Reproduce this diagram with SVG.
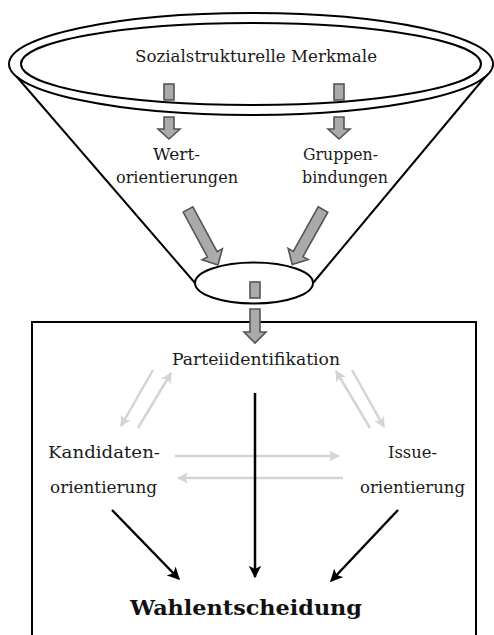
<svg xmlns="http://www.w3.org/2000/svg" width="494" height="635" viewBox="0 0 494 635">
<style>
.t{font-family:'DejaVu Serif',serif;font-size:17px;fill:#1a1a1a;}
.b{font-family:'DejaVu Serif',serif;font-size:20px;font-weight:bold;fill:#111;}
.line{stroke:#000;stroke-width:2;fill:none;}
.blk{fill:#aaa;stroke:#555;stroke-width:1.6;stroke-linejoin:miter;}
.gr{stroke:#d4d4d4;stroke-width:2.5;fill:none;marker-end:url(#ga);}
.bk{stroke:#000;stroke-width:2.5;fill:none;marker-end:url(#ba);}
</style>
<defs>
<marker id="ga" viewBox="0 0 10 10" refX="9" refY="5" markerWidth="4.4" markerHeight="4.4" orient="auto" markerUnits="strokeWidth">
<path d="M0,0 L10,5 L0,10 L2.5,5 Z" fill="#d4d4d4"/>
</marker>
<marker id="ba" viewBox="0 0 10 10" refX="9" refY="5" markerWidth="5" markerHeight="5" orient="auto" markerUnits="strokeWidth">
<path d="M0,0 L10,5 L0,10 L2.5,5 Z" fill="#000"/>
</marker>
</defs>
<rect width="494" height="635" fill="#fff"/>
<g id="funnel">
<line class="line" x1="17" y1="77" x2="195" y2="283"/>
<line class="line" x1="485" y1="77" x2="313" y2="283"/>
<ellipse class="line" cx="251" cy="64" rx="242" ry="51"/>
<ellipse class="line" cx="251" cy="64" rx="230" ry="41"/>
<ellipse class="line" cx="254" cy="283" rx="59" ry="20.5"/>
</g>
<g id="sozialstruktur">
<text class="t" x="256" y="62" text-anchor="middle" textLength="242" lengthAdjust="spacingAndGlyphs">Sozialstrukturelle Merkmale</text>
</g>
<g id="wertorientierungen">
<text class="t" x="176.5" y="160" text-anchor="middle" textLength="47" lengthAdjust="spacingAndGlyphs">Wert-</text>
<text class="t" x="177" y="183" text-anchor="middle" textLength="122" lengthAdjust="spacingAndGlyphs">orientierungen</text>
</g>
<g id="gruppenbindungen">
<text class="t" x="340.5" y="160" text-anchor="middle" textLength="75" lengthAdjust="spacingAndGlyphs">Gruppen-</text>
<text class="t" x="345" y="183" text-anchor="middle" textLength="86" lengthAdjust="spacingAndGlyphs">bindungen</text>
</g>
<g id="box">
<path class="line" d="M32,640 L32,322 L476,322 L476,640" stroke-width="1.6"/>
</g>
<g id="parteiidentifikation">
<text class="t" x="256" y="365" text-anchor="middle" textLength="168" lengthAdjust="spacingAndGlyphs">Parteiidentifikation</text>
</g>
<g id="kandidatenorientierung">
<text class="t" x="104" y="458" text-anchor="middle" textLength="112" lengthAdjust="spacingAndGlyphs">Kandidaten-</text>
<text class="t" x="103.5" y="493" text-anchor="middle" textLength="107" lengthAdjust="spacingAndGlyphs">orientierung</text>
</g>
<g id="issueorientierung">
<text class="t" x="412.5" y="458" text-anchor="middle" textLength="49" lengthAdjust="spacingAndGlyphs">Issue-</text>
<text class="t" x="412.5" y="493" text-anchor="middle" textLength="105" lengthAdjust="spacingAndGlyphs">orientierung</text>
</g>
<g id="wahlentscheidung">
<text class="b" x="246" y="615" text-anchor="middle" textLength="232" lengthAdjust="spacingAndGlyphs">Wahlentscheidung</text>
</g>
<g id="connectors">
<rect class="blk" x="164" y="84" width="10" height="16"/>
<rect class="blk" x="334" y="84" width="10" height="16"/>
<polygon class="blk" points="164,117 174,117 174,129 180,129 169,139 158,129 164,129"/>
<polygon class="blk" points="334,117 344,117 344,129 350,129 339,139 328,129 334,129"/>
<polygon class="blk" transform="translate(188,209.5) rotate(-28.4)" points="-5.5,0 5.5,0 5.5,51 11.5,51 0,63 -11.5,51 -5.5,51"/>
<polygon class="blk" transform="translate(323,209.5) rotate(29.2)" points="-5.5,0 5.5,0 5.5,51 11.5,51 0,63 -11.5,51 -5.5,51"/>
<rect class="blk" x="250" y="282" width="10" height="16"/>
<polygon class="blk" points="250,309 260,309 260,332 266,332 255,343 244,332 250,332"/>
<line class="gr" x1="153" y1="370" x2="121" y2="426"/>
<line class="gr" x1="138" y1="428" x2="171" y2="373"/>
<line class="gr" x1="370" y1="428" x2="336" y2="371"/>
<line class="gr" x1="352" y1="370" x2="384" y2="427"/>
<line class="gr" x1="175" y1="456" x2="339" y2="456"/>
<line class="gr" x1="343" y1="478" x2="178" y2="478"/>
<line class="bk" x1="255" y1="393" x2="255" y2="577"/>
<line class="bk" x1="112" y1="510" x2="179" y2="579"/>
<line class="bk" x1="398" y1="510" x2="331" y2="581"/>
</g>
</svg>
